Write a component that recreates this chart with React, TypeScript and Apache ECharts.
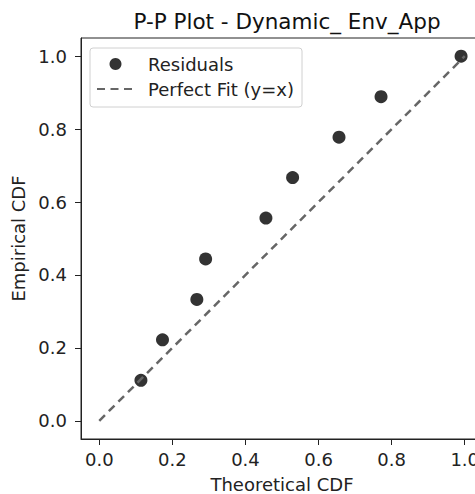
import React, { useEffect, useRef } from "react";
import * as echarts from "echarts";

const theoreticalCdf = [0.114, 0.173, 0.267, 0.291, 0.456, 0.529, 0.656, 0.771, 0.99];
const empiricalCdf = [0.111, 0.222, 0.333, 0.444, 0.556, 0.667, 0.778, 0.889, 1.0];
const fitLine = [[0, 0], [1, 1]];
const tickValues = [0, 0.2, 0.4, 0.6, 0.8, 1.0];

const FONT = "DejaVu Sans";

export default function App() {
  const ref = useRef<HTMLDivElement>(null);
  useEffect(() => {
    if (!ref.current) return;
    const chart = echarts.init(ref.current, undefined, { renderer: "svg" });
    const axisCommon = {
      type: "value",
      min: -0.05,
      max: 1.05,
      splitLine: { show: false },
      axisLine: { show: true, onZero: false, lineStyle: { color: "#222", width: 1 } },
      axisTick: {
        show: true,
        inside: false,
        length: 6,
        customValues: tickValues,
        lineStyle: { color: "#222", width: 1 },
      },
      axisLabel: {
        customValues: tickValues,
        formatter: (v: number) => v.toFixed(1),
        fontFamily: FONT,
        fontSize: 18,
        color: "#222",
      },
      nameLocation: "middle",
      nameTextStyle: { fontFamily: FONT, fontSize: 18, color: "#222" },
    };
    chart.setOption({
      animation: false,
      backgroundColor: "#fff",
      title: {
        text: "P-P Plot - Dynamic_ Env_App",
        left: 282,
        top: 5,
        textAlign: "center",
        textStyle: { fontFamily: FONT, fontSize: 21.5, fontWeight: "normal", color: "#111" },
      },
      grid: {
        left: 81,
        top: 38,
        width: 402,
        height: 401,
        outerBoundsMode: "none",
        containLabel: false,
        show: true,
        borderColor: "#222",
        borderWidth: 1,
        backgroundColor: "transparent",
      },
      legend: {
        orient: "vertical",
        left: 90,
        top: 48,
        backgroundColor: "#fff",
        borderColor: "#d0d0d0",
        borderWidth: 1,
        borderRadius: 3,
        padding: [7, 8, 9, 6],
        itemWidth: 37,
        itemHeight: 12,
        itemGap: 7,
        textStyle: { fontFamily: FONT, fontSize: 18, lineHeight: 18, color: "#222", padding: [0, 0, 0, 9] },
        data: [
          { name: "Residuals", icon: "circle" },
          { name: "Perfect Fit (y=x)", itemStyle: { opacity: 0 } },
        ],
      },
      xAxis: { ...axisCommon, name: "Theoretical CDF", axisLabel: { ...axisCommon.axisLabel, margin: 11 }, nameGap: 36 },
      yAxis: { ...axisCommon, name: "Empirical CDF", axisLabel: { ...axisCommon.axisLabel, margin: 14 }, nameGap: 51 },
      series: [
        {
          name: "Residuals",
          type: "scatter",
          data: theoreticalCdf.map((x, i) => [x, empiricalCdf[i]]),
          symbol: "circle",
          symbolSize: 13,
          itemStyle: { color: "#333333", opacity: 1 },
        },
        {
          name: "Perfect Fit (y=x)",
          type: "line",
          data: fitLine,
          symbol: "none",
          itemStyle: { color: "#666666" },
          lineStyle: { color: "#666666", width: 2.5, type: [8, 5.5] },
        },
      ],
    });
    return () => chart.dispose();
  }, []);
  return (
    <div
      style={{
        position: "fixed",
        left: 0,
        top: 0,
        width: 475,
        height: 494,
        overflow: "hidden",
        background: "#fff",
      }}
    >
      <div ref={ref} style={{ width: 500, height: 494 }} />
    </div>
  );
}
